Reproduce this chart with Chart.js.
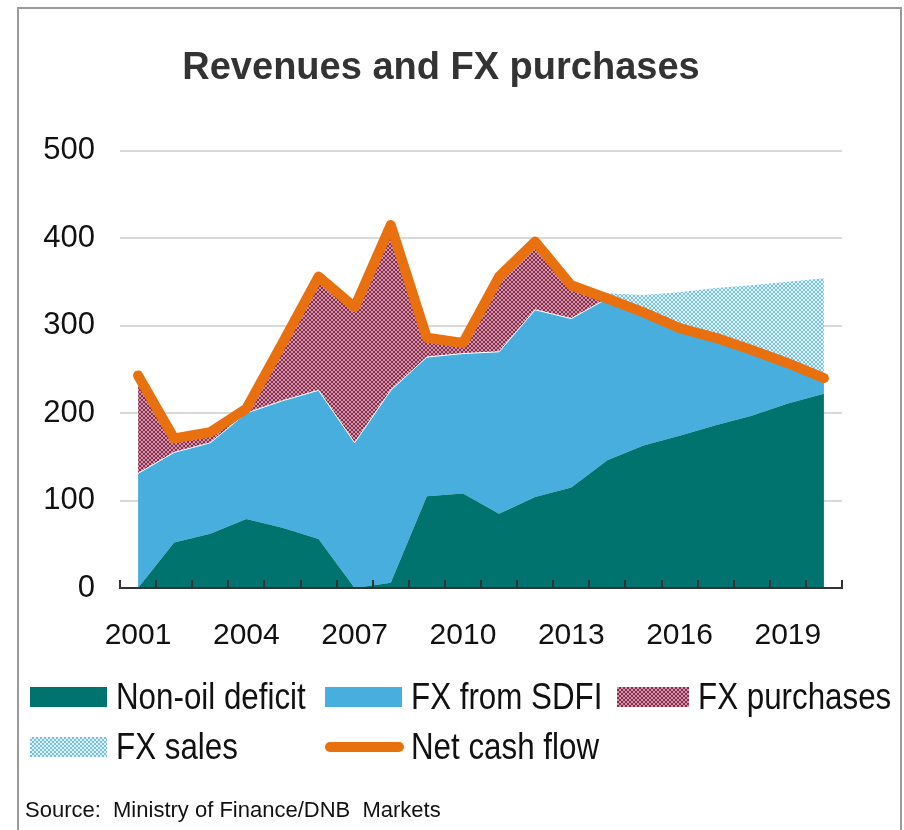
<!DOCTYPE html>
<html>
<head>
<meta charset="utf-8">
<script src="https://cdn.jsdelivr.net/npm/chart.js@4.4.1/dist/chart.umd.min.js"></script>
<style>
  body { margin: 0; background: #fff; width: 904px; height: 830px; overflow: hidden; position: relative; }
  #frame { position: absolute; left: 17px; top: 7px; width: 881px; height: 840px;
           border: 2px solid #9a9a9a; border-bottom: none; }
  #box { position: absolute; left: 0; top: 0; width: 881px; height: 821px; }
  .txt { font-family: "Liberation Sans", Arial, sans-serif; color: #111; }
  #legend { position: absolute; left: 0; top: 0; }
  .item { position: absolute; display: flex; align-items: center; font-size: 36px; height: 44px; white-space: nowrap; }
  .item .lbl { display: inline-block; transform: scaleX(0.87); transform-origin: 0 50%; }
  .swatch { width: 77px; height: 20px; margin-right: 9px; flex: none; }
  .lineSwatch { width: 79px; height: 10px; border-radius: 5px; margin-right: 7px; flex: none; }
  #source { position: absolute; left: 6px; top: 788px; font-size: 22px; white-space: nowrap; }
</style>
</head>
<body>
<div id="frame">
  <div id="box"><canvas id="fxChart"></canvas></div>
  <div id="legend" class="txt"></div>
  <div id="source" class="txt">Source:&nbsp; Ministry of Finance/DNB&nbsp; Markets</div>
</div>
<script>
const years = ["2001","2002","2003","2004","2005","2006","2007","2008","2009","2010",
               "2011","2012","2013","2014","2015","2016","2017","2018","2019","2020"];
const xTickLabels = ["2001","2004","2007","2010","2013","2016","2019"];
const yTicks = [0, 100, 200, 300, 400, 500];

const nonOilDeficit = [0, 52, 62, 79, 69, 56, 0, 6, 105, 108, 85, 104, 115, 146, 163, 174, 186, 197, 211, 222];
const fxFromSdfi = [131, 103, 104, 121, 145, 170, 166, 220, 159, 160, 185, 214, 193, 185, 152, 123, 100, 75, 46, 18];
const fxPurchases = [112, 16, 12, 5, 66, 130, 155, 189, 22, 12, 86, 78, 38, 0, 0, 0, 0, 0, 0, 0];
const fxSales = [0, 0, 0, 0, 0, 0, 0, 0, 0, 0, 0, 0, 0, 6, 20, 41, 57, 74, 93, 114];
const netCashFlow = [243, 171, 178, 205, 280, 356, 321, 415, 286, 280, 356, 396, 346, 331, 315, 297, 286, 272, 257, 240];

const axisFont = '"Liberation Sans", Arial, sans-serif';

// small checker patterns for the dotted areas
function checker(dark, light) {
  const c = document.createElement("canvas");
  c.width = 4; c.height = 4;
  const g = c.getContext("2d");
  g.fillStyle = light; g.fillRect(0, 0, 4, 4);
  g.fillStyle = dark; g.fillRect(0, 0, 2, 2); g.fillRect(2, 2, 2, 2);
  return g.createPattern(c, "repeat");
}
const purchasePattern = checker("#8a2c4c", "#cf95aa");
const salesPattern = checker("#76c1e3", "#e2f2f9");

const ctx = document.getElementById("fxChart");

new Chart(ctx, {
  type: "line",
  data: {
    labels: years,
    datasets: [
      { label: "Non-oil deficit", data: nonOilDeficit, backgroundColor: "#00736f",
        borderWidth: 0, fill: "origin", stack: "flows" },
      { label: "FX from SDFI", data: fxFromSdfi, backgroundColor: "#47aede",
        borderColor: "#ffffff", borderWidth: 1, fill: "-1", stack: "flows" },
      { label: "FX purchases", data: fxPurchases, backgroundColor: purchasePattern,
        borderWidth: 0, fill: "-1", stack: "flows" },
      { label: "FX sales", data: fxSales, backgroundColor: salesPattern,
        borderWidth: 0, fill: "-1", stack: "flows" },
      { label: "Net cash flow", data: netCashFlow, borderColor: "#e8700e",
        borderWidth: 10, borderCapStyle: "round", borderJoinStyle: "round",
        fill: false, stack: "net", order: -1 }
    ]
  },
  options: {
    responsive: true,
    maintainAspectRatio: false,
    animation: false,
    elements: { point: { radius: 0, hoverRadius: 0 }, line: { tension: 0 } },
    layout: { padding: { left: 21, right: 58, top: 0, bottom: 138 } },
    plugins: {
      legend: { display: false },
      tooltip: { enabled: false },
      title: {
        display: true,
        text: "Revenues and FX purchases",
        color: "#333333",
        font: { family: axisFont, size: 38, weight: "bold" },
        padding: { top: 37, bottom: 59 }
      }
    },
    scales: {
      x: {
        offset: true,
        grid: { offset: true, drawOnChartArea: false, color: "#333333", lineWidth: 2, tickLength: -8, z: 1 },
        border: { color: "#333333", width: 2, z: 1 },
        ticks: {
          autoSkip: false, maxRotation: 0, padding: 38, color: "#111111",
          font: { family: axisFont, size: 30 },
          callback: function (val) {
            const l = this.getLabelForValue(val);
            return xTickLabels.includes(l) ? l : "";
          }
        }
      },
      y: {
        stacked: true,
        min: 0, max: 500,
        afterFit: function (scale) { scale.width = 80; },
        afterBuildTicks: function (scale) { scale.ticks = yTicks.map(v => ({ value: v })); },
        grid: { color: "#d9d9d9", lineWidth: 2, drawTicks: false },
        border: { display: false },
        ticks: { padding: 25, color: "#111111", font: { family: axisFont, size: 31 } }
      }
    }
  }
});

// legend laid out in fixed columns like the original
const legendItems = [
  { text: "Non-oil deficit", bg: "#00736f", col: 0, row: 0 },
  { text: "FX from SDFI", bg: "#47aede", col: 1, row: 0 },
  { text: "FX purchases", bg: "repeating-conic-gradient(#8a2c4c 0 25%, #cf95aa 0 50%) 0 0/4px 4px", col: 2, row: 0 },
  { text: "FX sales", bg: "repeating-conic-gradient(#76c1e3 0 25%, #e2f2f9 0 50%) 0 0/4px 4px", col: 0, row: 1 },
  { text: "Net cash flow", line: "#e8700e", col: 1, row: 1 }
];
const colX = [11, 306, 598];
const rowY = [666, 716];
const legend = document.getElementById("legend");
legendItems.forEach(it => {
  const d = document.createElement("div");
  d.className = "item";
  d.style.left = colX[it.col] + "px";
  d.style.top = rowY[it.row] + "px";
  const s = document.createElement("span");
  if (it.line) { s.className = "lineSwatch"; s.style.background = it.line; }
  else { s.className = "swatch"; s.style.background = it.bg; }
  if (it.col === 2) s.style.width = "72px";
  d.appendChild(s);
  const t = document.createElement("span");
  t.className = "lbl";
  t.textContent = it.text;
  d.appendChild(t);
  legend.appendChild(d);
});
</script>
</body>
</html>
